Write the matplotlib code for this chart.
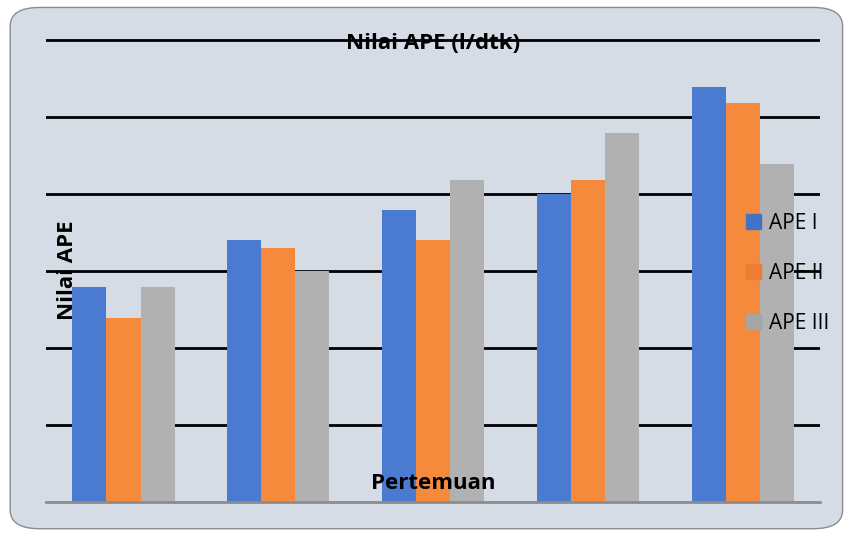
import numpy as np
import matplotlib
matplotlib.use("Agg")
import matplotlib.pyplot as plt
from matplotlib.patches import FancyBboxPatch

# data (one gridline = 1 unit)
pertemuan = ["1", "2", "3", "4", "5"]
ape_1 = [2.79, 3.40, 3.79, 4.00, 5.39]
ape_2 = [2.39, 3.30, 3.40, 4.19, 5.19]
ape_3 = [2.79, 3.00, 4.19, 4.79, 4.39]
series_names = ["APE I", "APE II", "APE III"]
colors = ["#4B7BD0", "#F68A3C", "#B1B1B1"]
legend_colors = ["#4472C4", "#ED7D31", "#A5A5A5"]

plt.rcParams['font.family'] = ['Open Sans', 'DejaVu Sans']

fig = plt.figure(figsize=(8.46, 5.33), dpi=100)
fig.patch.set_facecolor("white")

# rounded chart background
bg = FancyBboxPatch((0.012, 0.008), 0.984, 0.978,
                    boxstyle="round,pad=0,rounding_size=0.035",
                    transform=fig.transFigure, facecolor="#D6DCE5",
                    edgecolor="#8C8C8C", linewidth=1.0, zorder=-10)
fig.add_artist(bg)

ax = fig.add_axes([0.0545, 0.058, 0.915, 0.871])
ax.set_facecolor("none")

x = np.arange(len(pertemuan))
w = 0.22
for i, vals in enumerate([ape_1, ape_2, ape_3]):
    ax.bar(x + (i - 1) * w, vals, width=w, color=colors[i],
           label=series_names[i], zorder=3)

ax.set_xlim(-0.5, len(pertemuan) - 0.5)
ax.set_ylim(0, 6.03)
ax.set_yticks(np.arange(1, 7))
ax.yaxis.grid(True, color="black", linewidth=2.0, zorder=1)
ax.set_axisbelow(True)
ax.tick_params(left=False, bottom=False, labelleft=False, labelbottom=False)
for s in ["top", "right", "left"]:
    ax.spines[s].set_visible(False)
ax.spines["bottom"].set_color("#8C8C8C")
ax.spines["bottom"].set_linewidth(2.0)
ax.spines["bottom"].set_zorder(4)

fig.text(0.512, 0.918, "Nilai APE (l/dtk)", ha="center", va="center",
         fontsize=16, fontweight="bold", zorder=10)
fig.text(0.512, 0.093, "Pertemuan", ha="center", va="center",
         fontsize=16, fontweight="bold", zorder=10)
fig.text(0.080, 0.493, "Nilai APE", ha="center", va="center",
         rotation=90, fontsize=16, fontweight="bold", zorder=10)

leg = ax.legend(loc="center left", bbox_to_anchor=(0.88, 0.493), frameon=False,
                fontsize=15, handlelength=0.7, handleheight=0.7,
                handletextpad=0.4, labelspacing=1.4)
for h, c in zip(leg.legend_handles, legend_colors):
    h.set_color(c)
leg.set_zorder(10)

fig.savefig("out.png", dpi=100)
